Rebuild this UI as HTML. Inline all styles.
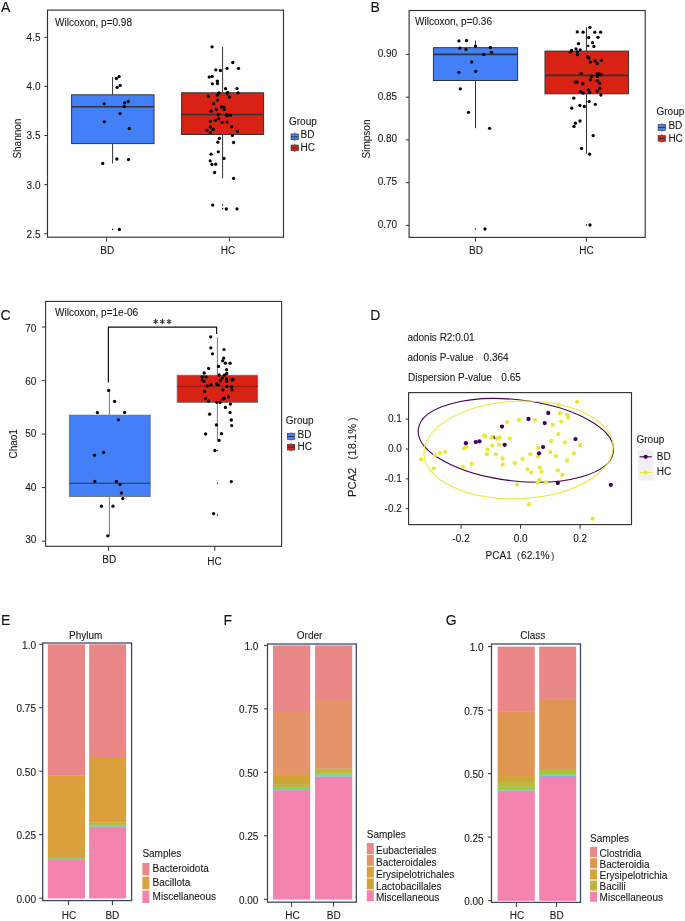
<!DOCTYPE html><html><head><meta charset="utf-8"><style>html,body{margin:0;padding:0;background:#fff;overflow:hidden;width:685px;height:921px;}svg{display:block;filter:blur(0.3px);}text{font-family:"Liberation Sans", sans-serif;stroke:currentColor;stroke-width:0.1px;color:#1a1a1a;}</style></head><body>
<svg width="685" height="921" viewBox="0 0 685 921">
<rect width="685" height="921" fill="#fff"/>
<text x="1" y="11.6" font-size="14" text-anchor="start" fill="#111" >A</text>
<rect x="47.5" y="10.1" width="236" height="227.1" fill="none" stroke="#333333" stroke-width="1.15" />
<text x="55" y="26" font-size="10" text-anchor="start" fill="#1a1a1a" >Wilcoxon, p=0.98</text>
<line x1="44.3" y1="37.3" x2="47.5" y2="37.3" stroke="#333333" stroke-width="1"/>
<text x="40.5" y="41.199999999999996" font-size="10" text-anchor="end" fill="#1a1a1a" >4.5</text>
<line x1="44.3" y1="86.4" x2="47.5" y2="86.4" stroke="#333333" stroke-width="1"/>
<text x="40.5" y="90.30000000000001" font-size="10" text-anchor="end" fill="#1a1a1a" >4.0</text>
<line x1="44.3" y1="135.5" x2="47.5" y2="135.5" stroke="#333333" stroke-width="1"/>
<text x="40.5" y="139.4" font-size="10" text-anchor="end" fill="#1a1a1a" >3.5</text>
<line x1="44.3" y1="184.6" x2="47.5" y2="184.6" stroke="#333333" stroke-width="1"/>
<text x="40.5" y="188.5" font-size="10" text-anchor="end" fill="#1a1a1a" >3.0</text>
<line x1="44.3" y1="233.7" x2="47.5" y2="233.7" stroke="#333333" stroke-width="1"/>
<text x="40.5" y="237.6" font-size="10" text-anchor="end" fill="#1a1a1a" >2.5</text>
<text font-size="10" text-anchor="middle" fill="#1a1a1a" transform="translate(20.6,138.6) rotate(-90) scale(1,1)">Shannon</text>
<line x1="112.6" y1="77" x2="112.6" y2="94.8" stroke="#333" stroke-width="1"/>
<line x1="112.6" y1="143.6" x2="112.6" y2="163.5" stroke="#333" stroke-width="1"/>
<rect x="71.6" y="94.8" width="82.4" height="48.8" fill="#4380f7" stroke="#333" stroke-width="1" />
<line x1="71.6" y1="106.7" x2="154" y2="106.7" stroke="#333" stroke-width="1.6"/>
<line x1="222.6" y1="47" x2="222.6" y2="92.8" stroke="#333" stroke-width="1"/>
<line x1="222.6" y1="134.5" x2="222.6" y2="178.3" stroke="#333" stroke-width="1"/>
<rect x="181.6" y="92.8" width="82.00000000000003" height="41.7" fill="#d82214" stroke="#333" stroke-width="1" />
<line x1="181.6" y1="114.5" x2="263.6" y2="114.5" stroke="#333" stroke-width="1.6"/>
<circle cx="116.4" cy="78.4" r="1.65" fill="#000"/>
<circle cx="119.1" cy="76.7" r="1.65" fill="#000"/>
<circle cx="117.1" cy="87.4" r="1.65" fill="#000"/>
<circle cx="120.2" cy="85.4" r="1.65" fill="#000"/>
<circle cx="104.3" cy="103.8" r="1.65" fill="#000"/>
<circle cx="124.7" cy="102.9" r="1.65" fill="#000"/>
<circle cx="128.2" cy="101.5" r="1.65" fill="#000"/>
<circle cx="124.3" cy="106.7" r="1.65" fill="#000"/>
<circle cx="120.1" cy="113.6" r="1.65" fill="#000"/>
<circle cx="104.3" cy="121.8" r="1.65" fill="#000"/>
<circle cx="129.3" cy="128.4" r="1.65" fill="#000"/>
<circle cx="116.9" cy="159" r="1.65" fill="#000"/>
<circle cx="128.5" cy="159.6" r="1.65" fill="#000"/>
<circle cx="102.7" cy="163.4" r="1.65" fill="#000"/>
<circle cx="119.4" cy="229.4" r="1.65" fill="#000"/>
<circle cx="112.6" cy="229.4" r="0.7" fill="#000"/>
<circle cx="212.1" cy="46.8" r="1.65" fill="#000"/>
<circle cx="232.8" cy="62.5" r="1.65" fill="#000"/>
<circle cx="227.1" cy="68.3" r="1.65" fill="#000"/>
<circle cx="238.5" cy="68.3" r="1.65" fill="#000"/>
<circle cx="215.8" cy="69.8" r="1.65" fill="#000"/>
<circle cx="220.4" cy="70.5" r="1.65" fill="#000"/>
<circle cx="209.2" cy="77.1" r="1.65" fill="#000"/>
<circle cx="212.1" cy="76.4" r="1.65" fill="#000"/>
<circle cx="217.3" cy="81.1" r="1.65" fill="#000"/>
<circle cx="217.5" cy="83.5" r="1.65" fill="#000"/>
<circle cx="212.3" cy="83.8" r="1.65" fill="#000"/>
<circle cx="225.6" cy="88.7" r="1.65" fill="#000"/>
<circle cx="237" cy="88.6" r="1.65" fill="#000"/>
<circle cx="219" cy="92.8" r="1.65" fill="#000"/>
<circle cx="227.7" cy="92.3" r="1.65" fill="#000"/>
<circle cx="227" cy="93.8" r="1.65" fill="#000"/>
<circle cx="238" cy="92.8" r="1.65" fill="#000"/>
<circle cx="217.5" cy="95.2" r="1.65" fill="#000"/>
<circle cx="208.2" cy="96.2" r="1.65" fill="#000"/>
<circle cx="229.4" cy="96.9" r="1.65" fill="#000"/>
<circle cx="217.5" cy="100.1" r="1.65" fill="#000"/>
<circle cx="213.6" cy="103.7" r="1.65" fill="#000"/>
<circle cx="221.4" cy="107" r="1.65" fill="#000"/>
<circle cx="224.1" cy="107.4" r="1.65" fill="#000"/>
<circle cx="224.1" cy="109.6" r="1.65" fill="#000"/>
<circle cx="216.3" cy="109.6" r="1.65" fill="#000"/>
<circle cx="211.1" cy="111.2" r="1.65" fill="#000"/>
<circle cx="218.3" cy="114.5" r="1.65" fill="#000"/>
<circle cx="226.8" cy="114.3" r="1.65" fill="#000"/>
<circle cx="226.8" cy="115.8" r="1.65" fill="#000"/>
<circle cx="230.4" cy="115.3" r="1.65" fill="#000"/>
<circle cx="218.8" cy="118.7" r="1.65" fill="#000"/>
<circle cx="215.3" cy="120.2" r="1.65" fill="#000"/>
<circle cx="210.2" cy="121.3" r="1.65" fill="#000"/>
<circle cx="222.2" cy="122.3" r="1.65" fill="#000"/>
<circle cx="227.1" cy="122.1" r="1.65" fill="#000"/>
<circle cx="210.4" cy="127" r="1.65" fill="#000"/>
<circle cx="231.7" cy="126.8" r="1.65" fill="#000"/>
<circle cx="213.1" cy="129.2" r="1.65" fill="#000"/>
<circle cx="207.2" cy="130.3" r="1.65" fill="#000"/>
<circle cx="213.3" cy="129.6" r="1.65" fill="#000"/>
<circle cx="210.4" cy="132.7" r="1.65" fill="#000"/>
<circle cx="237.3" cy="131.4" r="1.65" fill="#000"/>
<circle cx="232.4" cy="135.4" r="1.65" fill="#000"/>
<circle cx="219.4" cy="138.4" r="1.65" fill="#000"/>
<circle cx="217.8" cy="142.2" r="1.65" fill="#000"/>
<circle cx="233.6" cy="142.5" r="1.65" fill="#000"/>
<circle cx="218.3" cy="151.8" r="1.65" fill="#000"/>
<circle cx="211.1" cy="154.2" r="1.65" fill="#000"/>
<circle cx="224" cy="158.4" r="1.65" fill="#000"/>
<circle cx="210.2" cy="160.9" r="1.65" fill="#000"/>
<circle cx="211.9" cy="164.5" r="1.65" fill="#000"/>
<circle cx="215.7" cy="164.2" r="1.65" fill="#000"/>
<circle cx="214.6" cy="172.5" r="1.65" fill="#000"/>
<circle cx="233.6" cy="178.4" r="1.65" fill="#000"/>
<circle cx="212.7" cy="205.1" r="1.65" fill="#000"/>
<circle cx="226.3" cy="209" r="1.65" fill="#000"/>
<circle cx="237" cy="208.8" r="1.65" fill="#000"/>
<circle cx="222.6" cy="204.9" r="0.7" fill="#000"/>
<circle cx="222.6" cy="208.7" r="0.7" fill="#000"/>
<line x1="106.6" y1="237.2" x2="106.6" y2="241.6" stroke="#333333" stroke-width="1"/>
<text x="107.2" y="253.7" font-size="10" text-anchor="middle" fill="#1a1a1a" >BD</text>
<line x1="229.4" y1="237.2" x2="229.4" y2="241.6" stroke="#333333" stroke-width="1"/>
<text x="228.1" y="253.7" font-size="10" text-anchor="middle" fill="#1a1a1a" >HC</text>
<text x="289" y="125.1" font-size="10" text-anchor="start" fill="#1a1a1a" >Group</text>
<line x1="294.7" y1="132.6" x2="294.7" y2="141.00000000000003" stroke="#333" stroke-width="0.8"/>
<rect x="291" y="133.9" width="7.4" height="5.8" fill="#4380f7" stroke="#333" stroke-width="0.6" />
<line x1="291" y1="136.8" x2="298.4" y2="136.8" stroke="#333" stroke-width="0.9"/>
<text x="300.6" y="138" font-size="10" text-anchor="start" fill="#1a1a1a" >BD</text>
<line x1="294.7" y1="143.7" x2="294.7" y2="152.10000000000002" stroke="#333" stroke-width="0.8"/>
<rect x="291" y="145" width="7.4" height="5.8" fill="#d82214" stroke="#333" stroke-width="0.6" />
<line x1="291" y1="147.9" x2="298.4" y2="147.9" stroke="#333" stroke-width="0.9"/>
<text x="300.6" y="150.8" font-size="10" text-anchor="start" fill="#1a1a1a" >HC</text>
<text x="370.5" y="11.6" font-size="14" text-anchor="start" fill="#111" >B</text>
<rect x="409.1" y="10.5" width="236.1" height="226.9" fill="none" stroke="#333333" stroke-width="1.15" />
<text x="415" y="25" font-size="10" text-anchor="start" fill="#1a1a1a" >Wilcoxon, p=0.36</text>
<line x1="405.8" y1="54.4" x2="409" y2="54.4" stroke="#333333" stroke-width="1"/>
<text x="397.2" y="56.699999999999996" font-size="10" text-anchor="end" fill="#1a1a1a" >0.90</text>
<line x1="405.8" y1="97.2" x2="409" y2="97.2" stroke="#333333" stroke-width="1"/>
<text x="397.2" y="99.5" font-size="10" text-anchor="end" fill="#1a1a1a" >0.85</text>
<line x1="405.8" y1="139.9" x2="409" y2="139.9" stroke="#333333" stroke-width="1"/>
<text x="397.2" y="142.20000000000002" font-size="10" text-anchor="end" fill="#1a1a1a" >0.80</text>
<line x1="405.8" y1="182.7" x2="409" y2="182.7" stroke="#333333" stroke-width="1"/>
<text x="397.2" y="185.0" font-size="10" text-anchor="end" fill="#1a1a1a" >0.75</text>
<line x1="405.8" y1="225.4" x2="409" y2="225.4" stroke="#333333" stroke-width="1"/>
<text x="397.2" y="227.70000000000002" font-size="10" text-anchor="end" fill="#1a1a1a" >0.70</text>
<text font-size="10" text-anchor="middle" fill="#1a1a1a" transform="translate(369.8,139) rotate(-90) scale(1,1)">Simpson</text>
<line x1="475.5" y1="40.5" x2="475.5" y2="47.7" stroke="#333" stroke-width="1"/>
<line x1="475.5" y1="80.5" x2="475.5" y2="128.3" stroke="#333" stroke-width="1"/>
<rect x="433.4" y="47.7" width="84.20000000000005" height="32.8" fill="#4380f7" stroke="#333" stroke-width="1" />
<line x1="433.4" y1="54.4" x2="517.6" y2="54.4" stroke="#333" stroke-width="1.6"/>
<line x1="586.5" y1="27.3" x2="586.5" y2="51.1" stroke="#333" stroke-width="1"/>
<line x1="586.5" y1="93.8" x2="586.5" y2="153.6" stroke="#333" stroke-width="1"/>
<rect x="545" y="51.1" width="83.60000000000002" height="42.699999999999996" fill="#d82214" stroke="#333" stroke-width="1" />
<line x1="545" y1="75.4" x2="628.6" y2="75.4" stroke="#333" stroke-width="1.6"/>
<circle cx="458.9" cy="40.9" r="1.65" fill="#000"/>
<circle cx="466.5" cy="40.5" r="1.65" fill="#000"/>
<circle cx="475.5" cy="46.1" r="1.65" fill="#000"/>
<circle cx="459.8" cy="48.2" r="1.65" fill="#000"/>
<circle cx="466" cy="49.5" r="1.65" fill="#000"/>
<circle cx="490.4" cy="47.4" r="1.65" fill="#000"/>
<circle cx="491.5" cy="52.3" r="1.65" fill="#000"/>
<circle cx="483.9" cy="54.4" r="1.65" fill="#000"/>
<circle cx="471.7" cy="62" r="1.65" fill="#000"/>
<circle cx="458.9" cy="72.3" r="1.65" fill="#000"/>
<circle cx="475.7" cy="71.3" r="1.65" fill="#000"/>
<circle cx="460.3" cy="88.8" r="1.65" fill="#000"/>
<circle cx="468.5" cy="112.3" r="1.65" fill="#000"/>
<circle cx="489.6" cy="128.3" r="1.65" fill="#000"/>
<circle cx="485" cy="229" r="1.65" fill="#000"/>
<circle cx="475.4" cy="229" r="0.7" fill="#000"/>
<circle cx="589.9" cy="27.3" r="1.65" fill="#000"/>
<circle cx="577.3" cy="31.9" r="1.65" fill="#000"/>
<circle cx="583.1" cy="32.2" r="1.65" fill="#000"/>
<circle cx="594.8" cy="32.2" r="1.65" fill="#000"/>
<circle cx="600.6" cy="32.2" r="1.65" fill="#000"/>
<circle cx="588.7" cy="37.6" r="1.65" fill="#000"/>
<circle cx="598" cy="37.3" r="1.65" fill="#000"/>
<circle cx="578.5" cy="43.7" r="1.65" fill="#000"/>
<circle cx="592.6" cy="42.7" r="1.65" fill="#000"/>
<circle cx="593.9" cy="46.4" r="1.65" fill="#000"/>
<circle cx="576" cy="48.8" r="1.65" fill="#000"/>
<circle cx="580.2" cy="49.8" r="1.65" fill="#000"/>
<circle cx="571.6" cy="50.5" r="1.65" fill="#000"/>
<circle cx="570.4" cy="52.3" r="1.65" fill="#000"/>
<circle cx="577.5" cy="51.8" r="1.65" fill="#000"/>
<circle cx="577.5" cy="54.7" r="1.65" fill="#000"/>
<circle cx="587.7" cy="56.7" r="1.65" fill="#000"/>
<circle cx="589" cy="58.1" r="1.65" fill="#000"/>
<circle cx="601.4" cy="60.3" r="1.65" fill="#000"/>
<circle cx="595.1" cy="60.9" r="1.65" fill="#000"/>
<circle cx="590.4" cy="62.2" r="1.65" fill="#000"/>
<circle cx="597.2" cy="63.5" r="1.65" fill="#000"/>
<circle cx="581.2" cy="73.3" r="1.65" fill="#000"/>
<circle cx="597" cy="73.8" r="1.65" fill="#000"/>
<circle cx="599" cy="74" r="1.65" fill="#000"/>
<circle cx="600.9" cy="74.5" r="1.65" fill="#000"/>
<circle cx="597.5" cy="76.5" r="1.65" fill="#000"/>
<circle cx="591.7" cy="76.5" r="1.65" fill="#000"/>
<circle cx="590.4" cy="79.8" r="1.65" fill="#000"/>
<circle cx="575.3" cy="82.1" r="1.65" fill="#000"/>
<circle cx="577" cy="82.1" r="1.65" fill="#000"/>
<circle cx="597.2" cy="80.6" r="1.65" fill="#000"/>
<circle cx="582.9" cy="83.7" r="1.65" fill="#000"/>
<circle cx="599.7" cy="83.3" r="1.65" fill="#000"/>
<circle cx="599.8" cy="88.2" r="1.65" fill="#000"/>
<circle cx="588.5" cy="89.6" r="1.65" fill="#000"/>
<circle cx="580.4" cy="91.4" r="1.65" fill="#000"/>
<circle cx="597.2" cy="91.2" r="1.65" fill="#000"/>
<circle cx="583.2" cy="93.1" r="1.65" fill="#000"/>
<circle cx="589.7" cy="92.5" r="1.65" fill="#000"/>
<circle cx="600.9" cy="95.1" r="1.65" fill="#000"/>
<circle cx="573.8" cy="98.2" r="1.65" fill="#000"/>
<circle cx="589.2" cy="101.6" r="1.65" fill="#000"/>
<circle cx="595.3" cy="104.3" r="1.65" fill="#000"/>
<circle cx="579.9" cy="105.5" r="1.65" fill="#000"/>
<circle cx="584.3" cy="106.5" r="1.65" fill="#000"/>
<circle cx="571.8" cy="108.2" r="1.65" fill="#000"/>
<circle cx="580" cy="121" r="1.65" fill="#000"/>
<circle cx="575.4" cy="123.2" r="1.65" fill="#000"/>
<circle cx="574" cy="126.4" r="1.65" fill="#000"/>
<circle cx="593.2" cy="135.6" r="1.65" fill="#000"/>
<circle cx="581.6" cy="148.4" r="1.65" fill="#000"/>
<circle cx="589.6" cy="154.2" r="1.65" fill="#000"/>
<circle cx="590" cy="225" r="1.65" fill="#000"/>
<circle cx="588.2" cy="45.9" r="1.2" fill="#000"/>
<circle cx="586.4" cy="225" r="0.7" fill="#000"/>
<line x1="475.4" y1="237.4" x2="475.4" y2="241.8" stroke="#333333" stroke-width="1"/>
<text x="476" y="254" font-size="10" text-anchor="middle" fill="#1a1a1a" >BD</text>
<line x1="586.4" y1="237.4" x2="586.4" y2="241.8" stroke="#333333" stroke-width="1"/>
<text x="586.4" y="254" font-size="10" text-anchor="middle" fill="#1a1a1a" >HC</text>
<text x="656.5" y="114.6" font-size="10" text-anchor="start" fill="#1a1a1a" >Group</text>
<line x1="661.8000000000001" y1="123.3" x2="661.8000000000001" y2="131.70000000000002" stroke="#333" stroke-width="0.8"/>
<rect x="658.1" y="124.6" width="7.4" height="5.8" fill="#4380f7" stroke="#333" stroke-width="0.6" />
<line x1="658.1" y1="127.5" x2="665.5" y2="127.5" stroke="#333" stroke-width="0.9"/>
<text x="668.4" y="128.6" font-size="10" text-anchor="start" fill="#1a1a1a" >BD</text>
<line x1="661.8000000000001" y1="134.2" x2="661.8000000000001" y2="142.60000000000002" stroke="#333" stroke-width="0.8"/>
<rect x="658.1" y="135.5" width="7.4" height="5.8" fill="#d82214" stroke="#333" stroke-width="0.6" />
<line x1="658.1" y1="138.4" x2="665.5" y2="138.4" stroke="#333" stroke-width="0.9"/>
<text x="668.4" y="142.0" font-size="10" text-anchor="start" fill="#1a1a1a" >HC</text>
<text x="0.4" y="319.8" font-size="14" text-anchor="start" fill="#111" >C</text>
<rect x="45.6" y="301.4" width="236" height="244.9" fill="none" stroke="#333333" stroke-width="1.1" />
<text x="55" y="316" font-size="10" text-anchor="start" fill="#1a1a1a" >Wilcoxon, p=1e-06</text>
<line x1="41.8" y1="327.0" x2="45.6" y2="327.0" stroke="#333333" stroke-width="1"/>
<text x="36.3" y="331.5" font-size="10" text-anchor="end" fill="#1a1a1a" >70</text>
<line x1="41.8" y1="380.6" x2="45.6" y2="380.6" stroke="#333333" stroke-width="1"/>
<text x="36.3" y="384.6" font-size="10" text-anchor="end" fill="#1a1a1a" >60</text>
<line x1="41.8" y1="434.1" x2="45.6" y2="434.1" stroke="#333333" stroke-width="1"/>
<text x="36.3" y="437.3" font-size="10" text-anchor="end" fill="#1a1a1a" >50</text>
<line x1="41.8" y1="487.6" x2="45.6" y2="487.6" stroke="#333333" stroke-width="1"/>
<text x="36.3" y="490.7" font-size="10" text-anchor="end" fill="#1a1a1a" >40</text>
<line x1="41.8" y1="541.2" x2="45.6" y2="541.2" stroke="#333333" stroke-width="1"/>
<text x="36.3" y="543.4" font-size="10" text-anchor="end" fill="#1a1a1a" >30</text>
<text font-size="10" text-anchor="middle" fill="#1a1a1a" transform="translate(17.2,443.8) rotate(-90) scale(1,1)">Chao1</text>
<path d="M108.4 382.6 V327.1 H216.6 V334" fill="none" stroke="#111" stroke-width="1.2"/>
<path d="M155.70 319.05L155.70 324.15M153.49 320.33L157.91 322.88M157.91 320.33L153.49 322.88" stroke="#2a2a2a" stroke-width="1.05" fill="none"/>
<path d="M162.35 319.05L162.35 324.15M160.14 320.33L164.56 322.88M164.56 320.33L160.14 322.88" stroke="#2a2a2a" stroke-width="1.05" fill="none"/>
<path d="M169.00 319.05L169.00 324.15M166.79 320.33L171.21 322.88M171.21 320.33L166.79 322.88" stroke="#2a2a2a" stroke-width="1.05" fill="none"/>
<line x1="109.4" y1="390.6" x2="109.4" y2="415.2" stroke="#6a6a6a" stroke-width="0.9"/>
<line x1="109.4" y1="496.4" x2="109.4" y2="536" stroke="#6a6a6a" stroke-width="0.9"/>
<rect x="69.4" y="415.2" width="80.79999999999998" height="81.19999999999999" fill="#4380f7" stroke="#6a6a6a" stroke-width="0.9" />
<line x1="69.4" y1="483.2" x2="150.2" y2="483.2" stroke="#333" stroke-width="1.1"/>
<line x1="217.4" y1="337.3" x2="217.4" y2="375.3" stroke="#6a6a6a" stroke-width="0.9"/>
<line x1="217.4" y1="402.3" x2="217.4" y2="440" stroke="#6a6a6a" stroke-width="0.9"/>
<rect x="177.2" y="375.3" width="80.40000000000003" height="27.0" fill="#d82214" stroke="#6a6a6a" stroke-width="0.9" />
<line x1="177.2" y1="386.2" x2="257.6" y2="386.2" stroke="#8a1a12" stroke-width="1.1"/>
<circle cx="108.7" cy="390.4" r="1.65" fill="#000"/>
<circle cx="114.6" cy="401.4" r="1.65" fill="#000"/>
<circle cx="97.4" cy="412.6" r="1.65" fill="#000"/>
<circle cx="124.6" cy="412.4" r="1.65" fill="#000"/>
<circle cx="118.4" cy="419.8" r="1.65" fill="#000"/>
<circle cx="103.6" cy="452.4" r="1.65" fill="#000"/>
<circle cx="94.5" cy="455.2" r="1.65" fill="#000"/>
<circle cx="94.8" cy="481.4" r="1.65" fill="#000"/>
<circle cx="116.4" cy="481.4" r="1.65" fill="#000"/>
<circle cx="120" cy="484.6" r="1.65" fill="#000"/>
<circle cx="121.4" cy="493" r="1.65" fill="#000"/>
<circle cx="122.8" cy="498.6" r="1.65" fill="#000"/>
<circle cx="101.4" cy="506.2" r="1.65" fill="#000"/>
<circle cx="113" cy="506.2" r="1.65" fill="#000"/>
<circle cx="107.8" cy="535.8" r="1.65" fill="#000"/>
<circle cx="210.7" cy="336.8" r="1.65" fill="#000"/>
<circle cx="210.8" cy="347.8" r="1.65" fill="#000"/>
<circle cx="212.5" cy="353.8" r="1.65" fill="#000"/>
<circle cx="224" cy="349.6" r="1.65" fill="#000"/>
<circle cx="223.7" cy="358.2" r="1.65" fill="#000"/>
<circle cx="222.7" cy="360.8" r="1.65" fill="#000"/>
<circle cx="225.4" cy="363.2" r="1.65" fill="#000"/>
<circle cx="230.1" cy="363.2" r="1.65" fill="#000"/>
<circle cx="218.5" cy="366.4" r="1.65" fill="#000"/>
<circle cx="208.6" cy="368.4" r="1.65" fill="#000"/>
<circle cx="226.5" cy="369.6" r="1.65" fill="#000"/>
<circle cx="204.2" cy="373" r="1.65" fill="#000"/>
<circle cx="226.7" cy="373.5" r="1.65" fill="#000"/>
<circle cx="219.1" cy="375" r="1.65" fill="#000"/>
<circle cx="224.4" cy="375.2" r="1.65" fill="#000"/>
<circle cx="202.2" cy="376.9" r="1.65" fill="#000"/>
<circle cx="206.1" cy="377.1" r="1.65" fill="#000"/>
<circle cx="222.3" cy="378.1" r="1.65" fill="#000"/>
<circle cx="226.4" cy="378.9" r="1.65" fill="#000"/>
<circle cx="202.2" cy="379.9" r="1.65" fill="#000"/>
<circle cx="204.2" cy="381.3" r="1.65" fill="#000"/>
<circle cx="220.5" cy="380.6" r="1.65" fill="#000"/>
<circle cx="226.9" cy="381.3" r="1.65" fill="#000"/>
<circle cx="232.2" cy="380" r="1.65" fill="#000"/>
<circle cx="233" cy="379.4" r="1.65" fill="#000"/>
<circle cx="216.6" cy="384" r="1.65" fill="#000"/>
<circle cx="218.3" cy="384.9" r="1.65" fill="#000"/>
<circle cx="211" cy="384.9" r="1.65" fill="#000"/>
<circle cx="207.4" cy="385.9" r="1.65" fill="#000"/>
<circle cx="226.9" cy="386.5" r="1.65" fill="#000"/>
<circle cx="231.5" cy="386.7" r="1.65" fill="#000"/>
<circle cx="232" cy="389.8" r="1.65" fill="#000"/>
<circle cx="223" cy="389.8" r="1.65" fill="#000"/>
<circle cx="204.4" cy="391.4" r="1.65" fill="#000"/>
<circle cx="228.6" cy="397" r="1.65" fill="#000"/>
<circle cx="224.2" cy="398.2" r="1.65" fill="#000"/>
<circle cx="223.2" cy="398.9" r="1.65" fill="#000"/>
<circle cx="205.4" cy="398.6" r="1.65" fill="#000"/>
<circle cx="208.6" cy="401.2" r="1.65" fill="#000"/>
<circle cx="216.9" cy="402.3" r="1.65" fill="#000"/>
<circle cx="220.1" cy="402.5" r="1.65" fill="#000"/>
<circle cx="230.4" cy="404.1" r="1.65" fill="#000"/>
<circle cx="225.5" cy="407.5" r="1.65" fill="#000"/>
<circle cx="209.6" cy="414.2" r="1.65" fill="#000"/>
<circle cx="230.1" cy="412.5" r="1.65" fill="#000"/>
<circle cx="231.3" cy="420" r="1.65" fill="#000"/>
<circle cx="231.7" cy="425.6" r="1.65" fill="#000"/>
<circle cx="216.4" cy="424.9" r="1.65" fill="#000"/>
<circle cx="205.6" cy="434" r="1.65" fill="#000"/>
<circle cx="221.5" cy="433.7" r="1.65" fill="#000"/>
<circle cx="219" cy="440.4" r="1.65" fill="#000"/>
<circle cx="214.9" cy="450.5" r="1.65" fill="#000"/>
<circle cx="231.3" cy="481.6" r="1.65" fill="#000"/>
<circle cx="213.6" cy="513.6" r="1.65" fill="#000"/>
<circle cx="217.4" cy="450.6" r="0.7" fill="#000"/>
<circle cx="217.4" cy="483.1" r="0.7" fill="#000"/>
<circle cx="217.4" cy="515" r="0.7" fill="#000"/>
<line x1="108.6" y1="546.3" x2="108.6" y2="550.8" stroke="#333333" stroke-width="1"/>
<text x="109.3" y="563.1" font-size="10" text-anchor="middle" fill="#1a1a1a" >BD</text>
<line x1="214.8" y1="546.3" x2="214.8" y2="550.8" stroke="#333333" stroke-width="1"/>
<text x="214.4" y="564.8" font-size="10" text-anchor="middle" fill="#1a1a1a" >HC</text>
<text x="285.8" y="423.5" font-size="10" text-anchor="start" fill="#1a1a1a" >Group</text>
<line x1="291.09999999999997" y1="432.3" x2="291.09999999999997" y2="440.70000000000005" stroke="#333" stroke-width="0.8"/>
<rect x="287.4" y="433.6" width="7.4" height="5.8" fill="#4380f7" stroke="#333" stroke-width="0.6" />
<line x1="287.4" y1="436.5" x2="294.79999999999995" y2="436.5" stroke="#333" stroke-width="0.9"/>
<text x="297.6" y="437.8" font-size="10" text-anchor="start" fill="#1a1a1a" >BD</text>
<line x1="291.09999999999997" y1="443.0" x2="291.09999999999997" y2="451.40000000000003" stroke="#333" stroke-width="0.8"/>
<rect x="287.4" y="444.3" width="7.4" height="5.8" fill="#d82214" stroke="#333" stroke-width="0.6" />
<line x1="287.4" y1="447.2" x2="294.79999999999995" y2="447.2" stroke="#333" stroke-width="0.9"/>
<text x="297.6" y="450.3" font-size="10" text-anchor="start" fill="#1a1a1a" >HC</text>
<text x="370.3" y="319.8" font-size="14" text-anchor="start" fill="#111" >D</text>
<text x="407.4" y="340.6" font-size="10" text-anchor="start" fill="#1a1a1a" >adonis R2:0.01</text>
<text transform="translate(407.4,360.6) scale(1,1)" font-size="10" fill="#1a1a1a">adonis P-value<tspan dx="2.2" dy="-0.3" font-size="5.5" fill="#666">:</tspan><tspan dx="6.3" dy="0.3">0.364</tspan></text>
<text transform="translate(408,381) scale(1,1)" font-size="10" fill="#1a1a1a">Dispersion P-value<tspan dx="2.2" dy="-0.3" font-size="5.5" fill="#666">:</tspan><tspan dx="5.7" dy="0.3">0.65</tspan></text>
<rect x="408.6" y="392.6" width="222.9" height="132" fill="none" stroke="#333333" stroke-width="1.15" />
<line x1="405.8" y1="419.1" x2="409" y2="419.1" stroke="#333333" stroke-width="1"/>
<text x="401.8" y="422.1" font-size="10" text-anchor="end" fill="#1a1a1a" >0.1</text>
<line x1="405.8" y1="449.0" x2="409" y2="449.0" stroke="#333333" stroke-width="1"/>
<text x="401.8" y="452.0" font-size="10" text-anchor="end" fill="#1a1a1a" >0.0</text>
<line x1="405.8" y1="478.9" x2="409" y2="478.9" stroke="#333333" stroke-width="1"/>
<text x="401.8" y="481.9" font-size="10" text-anchor="end" fill="#1a1a1a" >-0.1</text>
<line x1="405.8" y1="508.7" x2="409" y2="508.7" stroke="#333333" stroke-width="1"/>
<text x="401.8" y="511.7" font-size="10" text-anchor="end" fill="#1a1a1a" >-0.2</text>
<line x1="461.1" y1="524.6" x2="461.1" y2="528.8" stroke="#333333" stroke-width="1"/>
<text x="461.1" y="541.6" font-size="10" text-anchor="middle" fill="#1a1a1a" >-0.2</text>
<line x1="520.6" y1="524.6" x2="520.6" y2="528.8" stroke="#333333" stroke-width="1"/>
<text x="520.6" y="541.6" font-size="10" text-anchor="middle" fill="#1a1a1a" >0.0</text>
<line x1="580.1" y1="524.6" x2="580.1" y2="528.8" stroke="#333333" stroke-width="1"/>
<text x="580.1" y="541.6" font-size="10" text-anchor="middle" fill="#1a1a1a" >0.2</text>
<text x="485.6" y="559" font-size="10" text-anchor="start" fill="#1a1a1a" >PCA1</text>
<text x="516.9" y="559" font-size="9.2" text-anchor="start" fill="#333" >(</text>
<text x="521.1" y="559" font-size="10" text-anchor="start" fill="#1a1a1a" >62.1%</text>
<text x="551.2" y="559" font-size="9.2" text-anchor="start" fill="#333" >)</text>
<g transform="translate(356,497) rotate(-90) scale(1,1)" fill="#1a1a1a" font-size="11.2"><text x="0" y="0">PCA2</text><text x="37.4" y="0" fill="#333" font-size="10.5">(</text><text x="41.5" y="0">18.1%</text><text x="75.9" y="0" fill="#333" font-size="10.5">)</text></g>
<ellipse cx="515.9" cy="440.35" rx="98.2" ry="40.6" transform="rotate(6.51 515.9 440.35)" fill="none" stroke="#440154" stroke-width="1.1"/>
<ellipse cx="518.55" cy="449.95" rx="94.7" ry="48.75" transform="rotate(-2.46 518.55 449.95)" fill="none" stroke="#e9e838" stroke-width="1.1"/>
<circle cx="507" cy="422.1" r="2.15" fill="#e9e838"/>
<circle cx="519" cy="420" r="2.15" fill="#e9e838"/>
<circle cx="534.8" cy="419.9" r="2.15" fill="#e9e838"/>
<circle cx="484.1" cy="435.6" r="2.15" fill="#e9e838"/>
<circle cx="485.5" cy="436.6" r="2.15" fill="#e9e838"/>
<circle cx="491.8" cy="437.3" r="2.15" fill="#e9e838"/>
<circle cx="497.2" cy="438.7" r="2.15" fill="#e9e838"/>
<circle cx="499.4" cy="437.4" r="2.15" fill="#e9e838"/>
<circle cx="509.7" cy="438.4" r="2.15" fill="#e9e838"/>
<circle cx="499.1" cy="444.7" r="2.15" fill="#e9e838"/>
<circle cx="492.2" cy="445.7" r="2.15" fill="#e9e838"/>
<circle cx="487.4" cy="449.4" r="2.15" fill="#e9e838"/>
<circle cx="466.2" cy="447" r="2.15" fill="#e9e838"/>
<circle cx="464" cy="448.4" r="2.15" fill="#e9e838"/>
<circle cx="445" cy="452.1" r="2.15" fill="#e9e838"/>
<circle cx="439.9" cy="453" r="2.15" fill="#e9e838"/>
<circle cx="434.9" cy="455.2" r="2.15" fill="#e9e838"/>
<circle cx="421" cy="459.4" r="2.15" fill="#e9e838"/>
<circle cx="486.9" cy="454.3" r="2.15" fill="#e9e838"/>
<circle cx="495.8" cy="454.3" r="2.15" fill="#e9e838"/>
<circle cx="502.7" cy="458.5" r="2.15" fill="#e9e838"/>
<circle cx="471.6" cy="463.6" r="2.15" fill="#e9e838"/>
<circle cx="514.6" cy="463" r="2.15" fill="#e9e838"/>
<circle cx="502.8" cy="464.6" r="2.15" fill="#e9e838"/>
<circle cx="462.9" cy="467" r="2.15" fill="#e9e838"/>
<circle cx="433.9" cy="468.4" r="2.15" fill="#e9e838"/>
<circle cx="530.3" cy="454.2" r="2.15" fill="#e9e838"/>
<circle cx="522.4" cy="459" r="2.15" fill="#e9e838"/>
<circle cx="527.4" cy="469.4" r="2.15" fill="#e9e838"/>
<circle cx="558.7" cy="404.6" r="2.15" fill="#e9e838"/>
<circle cx="577.1" cy="401.8" r="2.15" fill="#e9e838"/>
<circle cx="560" cy="413.2" r="2.15" fill="#e9e838"/>
<circle cx="567.1" cy="414.9" r="2.15" fill="#e9e838"/>
<circle cx="568.3" cy="417.4" r="2.15" fill="#e9e838"/>
<circle cx="561.2" cy="421.6" r="2.15" fill="#e9e838"/>
<circle cx="552.8" cy="425" r="2.15" fill="#e9e838"/>
<circle cx="558.3" cy="434.2" r="2.15" fill="#e9e838"/>
<circle cx="551.1" cy="440.9" r="2.15" fill="#e9e838"/>
<circle cx="564.9" cy="442.4" r="2.15" fill="#e9e838"/>
<circle cx="580.2" cy="445.1" r="2.15" fill="#e9e838"/>
<circle cx="538.2" cy="448" r="2.15" fill="#e9e838"/>
<circle cx="550.3" cy="452.1" r="2.15" fill="#e9e838"/>
<circle cx="573.8" cy="453.5" r="2.15" fill="#e9e838"/>
<circle cx="537.7" cy="456.6" r="2.15" fill="#e9e838"/>
<circle cx="555.8" cy="456.1" r="2.15" fill="#e9e838"/>
<circle cx="567.1" cy="460.5" r="2.15" fill="#e9e838"/>
<circle cx="531.3" cy="472.6" r="2.15" fill="#e9e838"/>
<circle cx="539.9" cy="467.6" r="2.15" fill="#e9e838"/>
<circle cx="541.6" cy="471.8" r="2.15" fill="#e9e838"/>
<circle cx="557.8" cy="470.4" r="2.15" fill="#e9e838"/>
<circle cx="562.4" cy="474.8" r="2.15" fill="#e9e838"/>
<circle cx="517.1" cy="484.4" r="2.15" fill="#e9e838"/>
<circle cx="537.7" cy="482.7" r="2.15" fill="#e9e838"/>
<circle cx="539.4" cy="479.8" r="2.15" fill="#e9e838"/>
<circle cx="545.8" cy="482.4" r="2.15" fill="#e9e838"/>
<circle cx="529" cy="504.5" r="2.15" fill="#e9e838"/>
<circle cx="592.6" cy="518.7" r="2.15" fill="#e9e838"/>
<circle cx="502" cy="426.6" r="2.15" fill="#440154"/>
<circle cx="465.9" cy="443.2" r="2.15" fill="#440154"/>
<circle cx="475.8" cy="442.1" r="2.15" fill="#440154"/>
<circle cx="479.5" cy="441.3" r="2.15" fill="#440154"/>
<circle cx="504.7" cy="444.8" r="2.15" fill="#440154"/>
<circle cx="528.5" cy="419" r="2.15" fill="#440154"/>
<circle cx="544.7" cy="423.1" r="2.15" fill="#440154"/>
<circle cx="548.3" cy="413" r="2.15" fill="#440154"/>
<circle cx="575.5" cy="439.1" r="2.15" fill="#440154"/>
<circle cx="543.1" cy="447.1" r="2.15" fill="#440154"/>
<circle cx="539" cy="453.3" r="2.15" fill="#440154"/>
<circle cx="557.8" cy="483" r="2.15" fill="#440154"/>
<circle cx="610.8" cy="484.8" r="2.15" fill="#440154"/>
<path d="M493.2 436.2 l1.6 -0.6 l-0.4 1.8 l1.4 0.4 l-1.8 1.6 z" fill="#440154"/>
<text x="636.5" y="442.6" font-size="10" text-anchor="start" fill="#1a1a1a" >Group</text>
<rect x="637.9" y="449.5" width="15.6" height="31" fill="#f0f0f0" stroke="none" stroke-width="1" />
<line x1="639.6" y1="456.8" x2="651.8" y2="456.8" stroke="#440154" stroke-width="1.1"/>
<circle cx="645.7" cy="456.8" r="2.1" fill="#440154"/>
<line x1="639.6" y1="472.5" x2="651.8" y2="472.5" stroke="#e9e838" stroke-width="1.1"/>
<circle cx="645.7" cy="472.5" r="2.1" fill="#e9e838"/>
<text x="656.8" y="459.8" font-size="10" text-anchor="start" fill="#1a1a1a" >BD</text>
<text x="656.8" y="475.4" font-size="10" text-anchor="start" fill="#1a1a1a" >HC</text>
<text x="0.9" y="624.9" font-size="14" text-anchor="start" fill="#111" >E</text>
<text x="85.8" y="639" font-size="10" text-anchor="middle" fill="#1a1a1a" >Phylum</text>
<rect x="47.8" y="859.2" width="37.2" height="39.25" fill="#f384b0" stroke="none" stroke-width="1" />
<rect x="47.8" y="857.8" width="37.2" height="1.65" fill="#7ccc78" stroke="none" stroke-width="1" />
<rect x="47.8" y="856.81" width="37.2" height="1.24" fill="#c0b840" stroke="none" stroke-width="1" />
<rect x="47.8" y="775.41" width="37.2" height="81.65" fill="#d9a03c" stroke="none" stroke-width="1" />
<rect x="47.8" y="644.3" width="37.2" height="131.36" fill="#ea8788" stroke="none" stroke-width="1" />
<rect x="89.1" y="826.5" width="37.0" height="71.95" fill="#f384b0" stroke="none" stroke-width="1" />
<rect x="89.1" y="825.1" width="37.0" height="1.65" fill="#70d0c0" stroke="none" stroke-width="1" />
<rect x="89.1" y="824.11" width="37.0" height="1.24" fill="#a0c838" stroke="none" stroke-width="1" />
<rect x="89.1" y="822.31" width="37.0" height="2.05" fill="#c0b440" stroke="none" stroke-width="1" />
<rect x="89.1" y="757.01" width="37.0" height="65.55" fill="#d9a03c" stroke="none" stroke-width="1" />
<rect x="89.1" y="644.3" width="37.0" height="112.96" fill="#ea8788" stroke="none" stroke-width="1" />
<rect x="42.7" y="643" width="88.89999999999999" height="257.6" fill="none" stroke="#3d4a66" stroke-width="1.3" />
<line x1="39.2" y1="644.3" x2="42.7" y2="644.3" stroke="#333" stroke-width="1"/>
<text x="36" y="648.6999999999999" font-size="10" text-anchor="end" fill="#1a1a1a" >1.0</text>
<line x1="39.2" y1="707.8" x2="42.7" y2="707.8" stroke="#333" stroke-width="1"/>
<text x="36" y="712.1999999999999" font-size="10" text-anchor="end" fill="#1a1a1a" >0.75</text>
<line x1="39.2" y1="771.2" x2="42.7" y2="771.2" stroke="#333" stroke-width="1"/>
<text x="36" y="775.6" font-size="10" text-anchor="end" fill="#1a1a1a" >0.50</text>
<line x1="39.2" y1="834.7" x2="42.7" y2="834.7" stroke="#333" stroke-width="1"/>
<text x="36" y="839.1" font-size="10" text-anchor="end" fill="#1a1a1a" >0.25</text>
<line x1="39.2" y1="898.2" x2="42.7" y2="898.2" stroke="#333" stroke-width="1"/>
<text x="36" y="902.6" font-size="10" text-anchor="end" fill="#1a1a1a" >0.00</text>
<line x1="68.6" y1="900.6" x2="68.6" y2="905.2" stroke="#333" stroke-width="1"/>
<text x="69.1" y="918.6" font-size="10" text-anchor="middle" fill="#1a1a1a" >HC</text>
<line x1="112.4" y1="900.6" x2="112.4" y2="905.2" stroke="#333" stroke-width="1"/>
<text x="112.4" y="918.6" font-size="10" text-anchor="middle" fill="#1a1a1a" >BD</text>
<text x="142.4" y="856.5" font-size="10" text-anchor="start" fill="#1a1a1a" >Samples</text>
<rect x="142.4" y="863.0" width="7" height="12.4" fill="#ea8788" stroke="none" stroke-width="1" />
<text x="152.6" y="872.1999999999999" font-size="10" text-anchor="start" fill="#1a1a1a" >Bacteroidota</text>
<rect x="142.4" y="876.8" width="7" height="12.4" fill="#d9a03c" stroke="none" stroke-width="1" />
<text x="152.6" y="885.9999999999999" font-size="10" text-anchor="start" fill="#1a1a1a" >Bacillota</text>
<rect x="142.4" y="890.6" width="7" height="12.4" fill="#f384b0" stroke="none" stroke-width="1" />
<text x="152.6" y="899.8" font-size="10" text-anchor="start" fill="#1a1a1a" >Miscellaneous</text>
<text x="223.6" y="624.9" font-size="14" text-anchor="start" fill="#111" >F</text>
<text x="309.6" y="639" font-size="10" text-anchor="middle" fill="#1a1a1a" >Order</text>
<rect x="273" y="790.1" width="37.19999999999999" height="109.45" fill="#f384b0" stroke="none" stroke-width="1" />
<rect x="273" y="789.01" width="37.19999999999999" height="1.34" fill="#d898c8" stroke="none" stroke-width="1" />
<rect x="273" y="787.71" width="37.19999999999999" height="1.54" fill="#66dc7a" stroke="none" stroke-width="1" />
<rect x="273" y="786.9" width="37.19999999999999" height="1.06" fill="#a8c444" stroke="none" stroke-width="1" />
<rect x="273" y="784.59" width="37.19999999999999" height="2.56" fill="#c0b440" stroke="none" stroke-width="1" />
<rect x="273" y="779.79" width="37.19999999999999" height="5.05" fill="#c6a83b" stroke="none" stroke-width="1" />
<rect x="273" y="774.1" width="37.19999999999999" height="5.94" fill="#d9a03c" stroke="none" stroke-width="1" />
<rect x="273" y="711.01" width="37.19999999999999" height="63.34" fill="#e39469" stroke="none" stroke-width="1" />
<rect x="273" y="645.4" width="37.19999999999999" height="65.86" fill="#ea8788" stroke="none" stroke-width="1" />
<rect x="315" y="776.31" width="37.19999999999999" height="123.24" fill="#f384b0" stroke="none" stroke-width="1" />
<rect x="315" y="775.12" width="37.19999999999999" height="1.44" fill="#78c0e0" stroke="none" stroke-width="1" />
<rect x="315" y="774.13" width="37.19999999999999" height="1.24" fill="#5ee68a" stroke="none" stroke-width="1" />
<rect x="315" y="773.24" width="37.19999999999999" height="1.14" fill="#80d048" stroke="none" stroke-width="1" />
<rect x="315" y="768.34" width="37.19999999999999" height="5.15" fill="#c2b43e" stroke="none" stroke-width="1" />
<rect x="315" y="699.94" width="37.19999999999999" height="68.65" fill="#e39469" stroke="none" stroke-width="1" />
<rect x="315" y="645.4" width="37.19999999999999" height="54.79" fill="#ea8788" stroke="none" stroke-width="1" />
<rect x="267.5" y="644" width="88.80000000000001" height="258.20000000000005" fill="none" stroke="#3d4a66" stroke-width="1.3" />
<line x1="264.0" y1="645.4" x2="267.5" y2="645.4" stroke="#333" stroke-width="1"/>
<text x="258.4" y="649.8" font-size="10" text-anchor="end" fill="#1a1a1a" >1.0</text>
<line x1="264.0" y1="708.9" x2="267.5" y2="708.9" stroke="#333" stroke-width="1"/>
<text x="258.4" y="713.3" font-size="10" text-anchor="end" fill="#1a1a1a" >0.75</text>
<line x1="264.0" y1="772.3" x2="267.5" y2="772.3" stroke="#333" stroke-width="1"/>
<text x="258.4" y="776.6999999999999" font-size="10" text-anchor="end" fill="#1a1a1a" >0.50</text>
<line x1="264.0" y1="835.8" x2="267.5" y2="835.8" stroke="#333" stroke-width="1"/>
<text x="258.4" y="840.1999999999999" font-size="10" text-anchor="end" fill="#1a1a1a" >0.25</text>
<line x1="264.0" y1="899.3" x2="267.5" y2="899.3" stroke="#333" stroke-width="1"/>
<text x="258.4" y="903.6999999999999" font-size="10" text-anchor="end" fill="#1a1a1a" >0.00</text>
<line x1="291.6" y1="902.2" x2="291.6" y2="906.8000000000001" stroke="#333" stroke-width="1"/>
<text x="292.4" y="918.6" font-size="10" text-anchor="middle" fill="#1a1a1a" >HC</text>
<line x1="333.6" y1="902.2" x2="333.6" y2="906.8000000000001" stroke="#333" stroke-width="1"/>
<text x="333.8" y="918.6" font-size="10" text-anchor="middle" fill="#1a1a1a" >BD</text>
<text x="366.8" y="837.7" font-size="10" text-anchor="start" fill="#1a1a1a" >Samples</text>
<rect x="366.8" y="843.0" width="7" height="11" fill="#ea8788" stroke="none" stroke-width="1" />
<text x="376" y="854.0999999999999" font-size="10" text-anchor="start" fill="#1a1a1a" >Eubacteriales</text>
<rect x="366.8" y="854.8" width="7" height="11" fill="#e39469" stroke="none" stroke-width="1" />
<text x="376" y="865.8999999999999" font-size="10" text-anchor="start" fill="#1a1a1a" >Bacteroidales</text>
<rect x="366.8" y="866.6" width="7" height="11" fill="#d9a03c" stroke="none" stroke-width="1" />
<text x="376" y="877.6999999999999" font-size="10" text-anchor="start" fill="#1a1a1a" >Erysipelotrichales</text>
<rect x="366.8" y="878.4" width="7" height="11" fill="#c6a83b" stroke="none" stroke-width="1" />
<text x="376" y="889.4999999999999" font-size="10" text-anchor="start" fill="#1a1a1a" >Lactobacillales</text>
<rect x="366.8" y="890.2" width="7" height="11" fill="#f384b0" stroke="none" stroke-width="1" />
<text x="376" y="901.3" font-size="10" text-anchor="start" fill="#1a1a1a" >Miscellaneous</text>
<text x="445.8" y="624.9" font-size="14" text-anchor="start" fill="#111" >G</text>
<text x="532.8" y="639" font-size="10" text-anchor="middle" fill="#1a1a1a" >Class</text>
<rect x="497.6" y="790.29" width="37.19999999999993" height="110.56" fill="#f384b0" stroke="none" stroke-width="1" />
<rect x="497.6" y="788.99" width="37.19999999999993" height="1.55" fill="#5edcc0" stroke="none" stroke-width="1" />
<rect x="497.6" y="788.0" width="37.19999999999993" height="1.24" fill="#88d040" stroke="none" stroke-width="1" />
<rect x="497.6" y="786.1" width="37.19999999999993" height="2.16" fill="#a8c444" stroke="none" stroke-width="1" />
<rect x="497.6" y="780.89" width="37.19999999999993" height="5.46" fill="#bdb63f" stroke="none" stroke-width="1" />
<rect x="497.6" y="774.9" width="37.19999999999993" height="6.24" fill="#d4a43c" stroke="none" stroke-width="1" />
<rect x="497.6" y="711.19" width="37.19999999999993" height="63.95" fill="#de9652" stroke="none" stroke-width="1" />
<rect x="497.6" y="646.6" width="37.19999999999993" height="64.84" fill="#ea8788" stroke="none" stroke-width="1" />
<rect x="539.2" y="776.9" width="37.0" height="123.95" fill="#f384b0" stroke="none" stroke-width="1" />
<rect x="539.2" y="775.71" width="37.0" height="1.44" fill="#98a4ee" stroke="none" stroke-width="1" />
<rect x="539.2" y="774.62" width="37.0" height="1.34" fill="#5edcc0" stroke="none" stroke-width="1" />
<rect x="539.2" y="773.12" width="37.0" height="1.75" fill="#84d040" stroke="none" stroke-width="1" />
<rect x="539.2" y="768.93" width="37.0" height="4.44" fill="#a8c040" stroke="none" stroke-width="1" />
<rect x="539.2" y="699.64" width="37.0" height="69.54" fill="#de9652" stroke="none" stroke-width="1" />
<rect x="539.2" y="646.6" width="37.0" height="53.29" fill="#ea8788" stroke="none" stroke-width="1" />
<rect x="491.5" y="644" width="89.0" height="258.4" fill="none" stroke="#3d4a66" stroke-width="1.3" />
<line x1="488.0" y1="646.6" x2="491.5" y2="646.6" stroke="#333" stroke-width="1"/>
<text x="483.6" y="651.0" font-size="10" text-anchor="end" fill="#1a1a1a" >1.0</text>
<line x1="488.0" y1="710.1" x2="491.5" y2="710.1" stroke="#333" stroke-width="1"/>
<text x="483.6" y="714.5" font-size="10" text-anchor="end" fill="#1a1a1a" >0.75</text>
<line x1="488.0" y1="773.6" x2="491.5" y2="773.6" stroke="#333" stroke-width="1"/>
<text x="483.6" y="778.0" font-size="10" text-anchor="end" fill="#1a1a1a" >0.50</text>
<line x1="488.0" y1="837.1" x2="491.5" y2="837.1" stroke="#333" stroke-width="1"/>
<text x="483.6" y="841.5" font-size="10" text-anchor="end" fill="#1a1a1a" >0.25</text>
<line x1="488.0" y1="900.6" x2="491.5" y2="900.6" stroke="#333" stroke-width="1"/>
<text x="483.6" y="905.0" font-size="10" text-anchor="end" fill="#1a1a1a" >0.00</text>
<line x1="516.4" y1="902.4" x2="516.4" y2="907.0" stroke="#333" stroke-width="1"/>
<text x="517.0" y="918.6" font-size="10" text-anchor="middle" fill="#1a1a1a" >HC</text>
<line x1="556.6" y1="902.4" x2="556.6" y2="907.0" stroke="#333" stroke-width="1"/>
<text x="556.8" y="918.6" font-size="10" text-anchor="middle" fill="#1a1a1a" >BD</text>
<text x="590.1" y="841.7" font-size="10" text-anchor="start" fill="#1a1a1a" >Samples</text>
<rect x="590.1" y="847.0" width="7" height="10" fill="#ea8788" stroke="none" stroke-width="1" />
<text x="599.6" y="856.5999999999999" font-size="10" text-anchor="start" fill="#1a1a1a" >Clostridia</text>
<rect x="590.1" y="858.2" width="7" height="10" fill="#de9652" stroke="none" stroke-width="1" />
<text x="599.6" y="867.8" font-size="10" text-anchor="start" fill="#1a1a1a" >Bacteroidia</text>
<rect x="590.1" y="869.4" width="7" height="10" fill="#d4a43c" stroke="none" stroke-width="1" />
<text x="599.6" y="878.9999999999999" font-size="10" text-anchor="start" fill="#1a1a1a" >Erysipelotrichia</text>
<rect x="590.1" y="880.6" width="7" height="10" fill="#bdb63f" stroke="none" stroke-width="1" />
<text x="599.6" y="890.1999999999999" font-size="10" text-anchor="start" fill="#1a1a1a" >Bacilli</text>
<rect x="590.1" y="891.8" width="7" height="10" fill="#f384b0" stroke="none" stroke-width="1" />
<text x="599.6" y="901.3999999999999" font-size="10" text-anchor="start" fill="#1a1a1a" >Miscellaneous</text>
</svg></body></html>
